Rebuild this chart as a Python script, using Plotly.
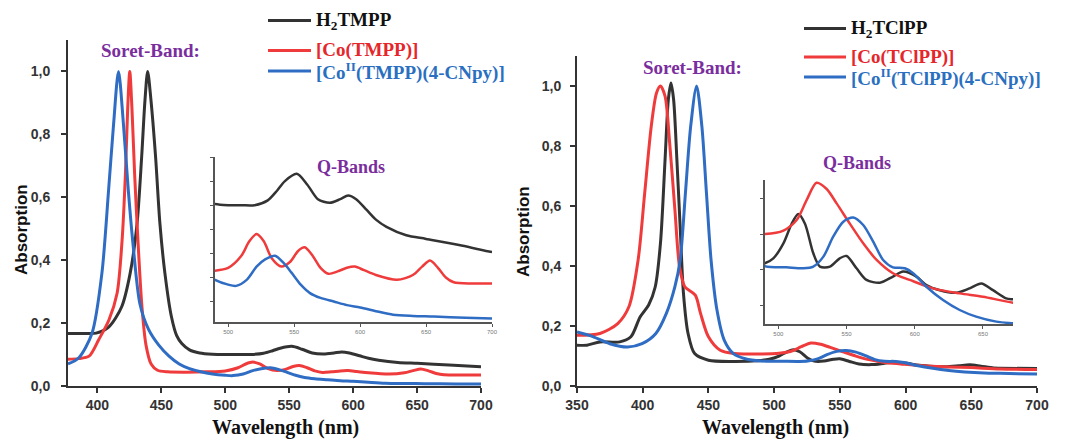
import plotly.graph_objects as go

# ---------------- data: left panel (TMPP) ----------------
h2tmpp_x = [377, 390, 399, 409, 419, 425.6, 431, 434.6, 437.2, 439.3, 441.9, 445.5, 448.9, 452.8, 457.9,
            462, 466, 472, 480, 490, 500, 510, 520, 530, 537, 543, 552, 560, 568, 577, 585, 591, 597,
            605, 612, 620, 635, 650, 675, 700]
h2tmpp_y = [0.167, 0.167, 0.168, 0.188, 0.252, 0.358, 0.516, 0.728, 0.908, 1.0, 0.908, 0.728, 0.516, 0.358,
            0.22, 0.16, 0.135, 0.115, 0.105, 0.101, 0.100, 0.100, 0.100, 0.104, 0.112, 0.120, 0.126, 0.117,
            0.105, 0.102, 0.105, 0.108, 0.105, 0.096, 0.088, 0.082, 0.075, 0.072, 0.067, 0.061]

cotmpp_x = [377, 385, 393.5, 401, 409, 415.4, 419.3, 421.9, 423.7, 425.3, 427, 429.1, 431.7, 434.8, 438,
            442, 447, 455, 470, 485, 500, 510, 516, 521.5, 527, 533, 540.5, 547, 553, 558, 564, 570, 576,
            583, 590, 596, 603, 612, 628, 640, 647, 653, 659, 665, 671, 685, 700]
cotmpp_y = [0.085, 0.087, 0.095, 0.147, 0.21, 0.295, 0.463, 0.674, 0.884, 1.0, 0.884, 0.674, 0.463, 0.253,
            0.13, 0.07, 0.05, 0.045, 0.044, 0.045, 0.048, 0.058, 0.07, 0.076, 0.07, 0.056, 0.049, 0.053,
            0.062, 0.065, 0.058, 0.048, 0.043, 0.045, 0.048, 0.049, 0.046, 0.042, 0.038, 0.042, 0.049,
            0.054, 0.048, 0.04, 0.036, 0.035, 0.035]

cocn_tmpp_x = [377, 385.5, 395.8, 403.5, 408.7, 412.6, 416.5, 420.4, 424.2, 428.1, 433.3, 440, 448, 456,
               464, 472, 480, 490, 500, 506, 514, 521.5, 528, 535.5, 542, 548, 555, 562, 570, 580, 590,
               600, 612, 625, 640, 656, 680, 700]
cocn_tmpp_y = [0.07, 0.09, 0.168, 0.358, 0.62, 0.83, 1.0, 0.83, 0.62, 0.44, 0.26, 0.18, 0.13, 0.095,
               0.07, 0.055, 0.046, 0.038, 0.034, 0.033, 0.038, 0.049, 0.055, 0.058, 0.052, 0.044, 0.034,
               0.027, 0.023, 0.020, 0.017, 0.015, 0.012, 0.009, 0.008, 0.0075, 0.0065, 0.006]

# ---------------- data: right panel (TClPP) ----------------
h2tclpp_x = [350, 357.5, 367.5, 382.5, 391, 398, 404.5, 409.5, 413.5, 417, 419.5, 421.5, 423.5, 426,
             428.5, 431, 434.5, 439.5, 450, 468, 490, 496.3, 503.7, 509.8, 514.6, 519.5, 525.6,
             530.5, 537.8, 545, 550, 557.3, 564.6, 574.4, 584, 591.5, 601.2, 608.5, 618.3, 630.5, 640.2,
             648.8, 657.3, 667, 672, 700]
h2tclpp_y = [0.136, 0.136, 0.147, 0.147, 0.164, 0.23, 0.27, 0.33, 0.476, 0.754, 0.955, 1.01, 0.955, 0.754,
             0.53, 0.309, 0.175, 0.108, 0.086, 0.082, 0.0854, 0.089, 0.0998, 0.114, 0.121, 0.114, 0.0926,
             0.083, 0.083, 0.089, 0.0907, 0.0818, 0.0734, 0.0714, 0.0758, 0.0794, 0.0758, 0.0697, 0.066,
             0.0642, 0.0673, 0.0709, 0.066, 0.0601, 0.0594, 0.058]

cotclpp_x = [350, 367.5, 381, 389.5, 396.5, 401.5, 406.5, 410.5, 413.5, 417, 420.5, 424.5, 428,
             432, 440, 444, 450, 459, 470, 480, 490.2, 503.7, 513.4, 520.7, 528, 535.4, 542.7,
             552.4, 562.2, 572, 584, 596.3, 613.4, 632.9, 650, 672, 700]
cotclpp_y = [0.169, 0.175, 0.208, 0.264, 0.42, 0.643, 0.866, 0.977, 1.0, 0.966, 0.81, 0.587, 0.398,
             0.331, 0.303, 0.242, 0.164, 0.119, 0.108, 0.107, 0.1065, 0.109, 0.1166, 0.131, 0.1435, 0.139,
             0.1286, 0.114, 0.0998, 0.0878, 0.0782, 0.0734, 0.0673, 0.0637, 0.0613, 0.057, 0.055]

cocn_tclpp_x = [350, 362.5, 375, 388.5, 399.5, 410, 418, 424.5, 428.5, 432.5, 436.5, 441, 445, 448.5,
                452, 456.5, 462, 469, 478, 490, 506, 518.3, 525.6, 533, 540.2, 547.6, 554.9, 562.2,
                569.5, 576.8, 584, 592.7, 598.8, 608.5, 620.7, 632.9, 645, 659.8, 672, 700]
cocn_tclpp_y = [0.18, 0.164, 0.141, 0.13, 0.141, 0.175, 0.242, 0.331, 0.42, 0.643, 0.866, 1.0, 0.866, 0.643,
                0.42, 0.253, 0.153, 0.108, 0.091, 0.0834, 0.0825, 0.0818, 0.083, 0.0902, 0.1046, 0.1154,
                0.1185, 0.113, 0.101, 0.0878, 0.0825, 0.0818, 0.0782, 0.0685, 0.0589, 0.0517, 0.0469,
                0.0433, 0.0421, 0.040]

left_names = ["H<sub>2</sub>TMPP", "[Co(TMPP)]", "[Co<sup>II</sup>(TMPP)(4-CNpy)]"]
right_names = ["H<sub>2</sub>TClPP", "[Co(TClPP)]", "[Co<sup>II</sup>(TClPP)(4-CNpy)]"]
left_ticks_x = [400, 450, 500, 550, 600, 650, 700]
right_ticks_x = [350, 400, 450, 500, 550, 600, 650, 700]
y_ticks = [0.0, 0.2, 0.4, 0.6, 0.8, 1.0]

# ---------------- style ----------------
W, H = 1067, 440
line_colors = ["#333333", "#EF3B3B", "#2F6CC3"]
text_colors = ["#111111", "#E5262B", "#2A6FC0"]
purple = "#7A2E9E"
axis_col = "#333333"
serif = "Liberation Serif, Times New Roman, serif"
sans = "Liberation Sans, Arial, sans-serif"

def px_x(p):
    return p / W

def px_y(p):
    return 1 - p / H

fig = go.Figure()

left_series = [(h2tmpp_x, h2tmpp_y), (cotmpp_x, cotmpp_y), (cocn_tmpp_x, cocn_tmpp_y)]
right_series = [(h2tclpp_x, h2tclpp_y), (cotclpp_x, cotclpp_y), (cocn_tclpp_x, cocn_tclpp_y)]

for i, (xs, ys) in enumerate(left_series):
    fig.add_trace(go.Scatter(x=xs, y=ys, mode="lines", xaxis="x", yaxis="y", showlegend=False,
                             line=dict(color=line_colors[i], width=3, shape="spline", smoothing=0.8)))
    fig.add_trace(go.Scatter(x=xs, y=ys, mode="lines", xaxis="x3", yaxis="y3", showlegend=False,
                             line=dict(color=line_colors[i], width=2.5, shape="spline", smoothing=0.8)))
for i, (xs, ys) in enumerate(right_series):
    fig.add_trace(go.Scatter(x=xs, y=ys, mode="lines", xaxis="x2", yaxis="y2", showlegend=False,
                             line=dict(color=line_colors[i], width=3, shape="spline", smoothing=0.8)))
    fig.add_trace(go.Scatter(x=xs, y=ys, mode="lines", xaxis="x4", yaxis="y4", showlegend=False,
                             line=dict(color=line_colors[i], width=2.5, shape="spline", smoothing=0.8)))

main_axis = dict(showline=True, linecolor=axis_col, linewidth=2, ticks="outside", ticklen=5,
                 tickwidth=2, tickcolor=axis_col, showgrid=False, zeroline=False, automargin=False,
                 tickfont=dict(family=sans, size=14, color="#333333", weight="bold"))
inset_axis = dict(showline=True, linecolor="#555555", linewidth=1.5, ticks="outside", ticklen=3,
                  tickwidth=1, tickcolor="#555555", showgrid=False, zeroline=False, automargin=False,
                  tickfont=dict(family=sans, size=6, color="#777777"))

fig.update_layout(
    width=W, height=H, margin=dict(l=0, r=0, t=0, b=0, autoexpand=False),
    paper_bgcolor="white", plot_bgcolor="rgba(0,0,0,0)", separators=",.",
    showlegend=False,
    xaxis=dict(domain=[px_x(68), px_x(481)], range=[377, 700], anchor="y",
               tickvals=left_ticks_x, **main_axis),
    yaxis=dict(domain=[px_y(386), px_y(40)], range=[0, 1.1], anchor="x",
               tickvals=y_ticks, tickformat=".1f", ticklabelstandoff=8, **main_axis),
    xaxis2=dict(domain=[px_x(577), px_x(1037)], range=[350, 700], anchor="y2",
                tickvals=right_ticks_x, **main_axis),
    yaxis2=dict(domain=[px_y(386), px_y(56)], range=[0, 1.1], anchor="x2",
                tickvals=y_ticks, tickformat=".1f", ticklabelstandoff=6, **main_axis),
    xaxis3=dict(domain=[px_x(215), px_x(492)], range=[490, 700], anchor="y3",
                tickvals=[500, 550, 600, 650, 700], **inset_axis),
    yaxis3=dict(domain=[px_y(322), px_y(157)], range=[0.003, 0.14], anchor="x3",
                dtick=0.02, tick0=0.0, showticklabels=False, **inset_axis),
    xaxis4=dict(domain=[px_x(765), px_x(1013)], range=[490.2, 672], anchor="y4",
                tickvals=[500, 550, 600, 650], **inset_axis),
    yaxis4=dict(domain=[px_y(324), px_y(180)], range=[0.0416, 0.1455], anchor="x4",
                dtick=0.0258, tick0=0.0548, showticklabels=False, **inset_axis),
)

annotations = []
shapes = []

def legend_block(names, x0, x1, ys, size):
    for i, name in enumerate(names):
        shapes.append(dict(type="line", xref="paper", yref="paper", x0=px_x(x0), x1=px_x(x1),
                           y0=px_y(ys[i]), y1=px_y(ys[i]),
                           line=dict(color=line_colors[i], width=3)))
        annotations.append(dict(text=name, xref="paper", yref="paper", x=px_x(x1 + 3), y=px_y(ys[i]),
                                xanchor="left", yanchor="middle", showarrow=False,
                                font=dict(family=serif, size=size, color=text_colors[i], weight="bold")))

legend_block(left_names, 268, 311, [20.5, 50.5, 71], 19)
legend_block(right_names, 804, 846, [28.5, 57, 77], 19)

def label(text, x, y, size, color, family, angle=0):
    annotations.append(dict(text=text, xref="paper", yref="paper", x=px_x(x), y=px_y(y),
                            xanchor="center", yanchor="middle", showarrow=False, textangle=angle,
                            font=dict(family=family, size=size, color=color, weight="bold")))

label("Soret-Band:", 150, 50, 19, purple, serif)
label("Soret-Band:", 692, 67, 19, purple, serif)
label("Q-Bands", 351, 167, 18, purple, serif)
label("Q-Bands", 857, 163, 18, purple, serif)
label("Wavelength (nm)", 285, 427, 20, "#111111", serif)
label("Wavelength (nm)", 775, 427, 20, "#111111", serif)
label("Absorption", 21, 230, 17, "#111111", sans, -90)
label("Absorption", 524, 232, 17, "#111111", sans, -90)

fig.update_layout(annotations=annotations, shapes=shapes)

fig.write_html("out.html", config={"displayModeBar": False},
               post_script="document.body.style.margin='0px';")
